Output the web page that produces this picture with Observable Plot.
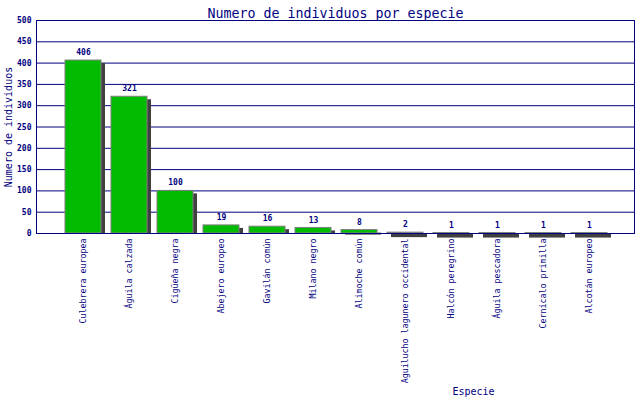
<!DOCTYPE html>
<html>
<head>
<meta charset="utf-8">
<script src="https://cdn.jsdelivr.net/npm/d3@7"></script>
<script src="https://cdn.jsdelivr.net/npm/@observablehq/plot@0.6"></script>
<style>
  html, body { margin: 0; padding: 0; background: #fff; }
</style>
</head>
<body>
<div id="chart"></div>
<script>
const categories = [
  "Culebrera europea", "Águila calzada", "Cigüeña negra", "Abejero europeo",
  "Gavilán común", "Milano negro", "Alimoche común", "Aguilucho lagunero occidental",
  "Halcón peregrino", "Águila pescadora", "Cernícalo primilla", "Alcotán europeo"
];
const values = [406, 321, 100, 19, 16, 13, 8, 2, 1, 1, 1, 1];
const yTicks = [0, 50, 100, 150, 200, 250, 300, 350, 400, 450, 500];

const title = "Numero de individuos por especie";
const yLabel = "Numero de individuos";
const xLabel = "Especie";

const data = categories.map((c, i) => ({ species: c, value: values[i] }));

const navy = "#000080";
const green = "#00bb00";
const shadow = "#404040";
const shadowDepth = 11.7;

const chart = Plot.plot({
  width: 640,
  height: 400,
  marginTop: 20,
  marginBottom: 167,
  marginLeft: 36,
  marginRight: 6,
  style: { fontFamily: "DejaVu Sans Mono", background: "#fff", color: navy },
  x: { domain: categories, range: [55, 617], padding: 0.217, round: false, label: null },
  y: { domain: [0, 500], label: null },
  marks: [
    Plot.ruleY(yTicks, { stroke: navy, strokeWidth: 1 }),
    Plot.barY(data, { x: "species", y: "value", fill: shadow, dx: 4, insetTop: 3 }),
    Plot.barY(data, { x: "species", y1: 0, y2: d => Math.min(0, d.value - shadowDepth), fill: shadow, dx: 4 }),
    Plot.barY(data, { x: "species", y: "value", fill: green, stroke: "#808080", strokeWidth: 1 }),
    Plot.frame({ stroke: navy, strokeWidth: 1 }),
    Plot.axisY({ ticks: yTicks, tickSize: 0, tickPadding: 5, fontSize: 8, fontWeight: "bold", fill: navy, label: null }),
    Plot.axisX({ tickRotate: -90, tickSize: 0, tickPadding: 5, fontSize: 8.3, fill: navy, label: null }),
    Plot.text(data, { x: "species", y: "value", text: d => String(d.value), dy: -8, fontSize: 8, fontWeight: "bold", fill: navy }),
    Plot.text([title], { frameAnchor: "top", dy: -12, fontSize: 13.3, fill: navy }),
    Plot.text([yLabel], { frameAnchor: "left", textAnchor: "middle", dx: -28, rotate: -90, fontSize: 10, fill: navy }),
    Plot.text([xLabel], { frameAnchor: "bottom", dx: 138, dy: 161, fontSize: 10, fill: navy })
  ]
});
document.getElementById("chart").appendChild(chart);
</script>
</body>
</html>
